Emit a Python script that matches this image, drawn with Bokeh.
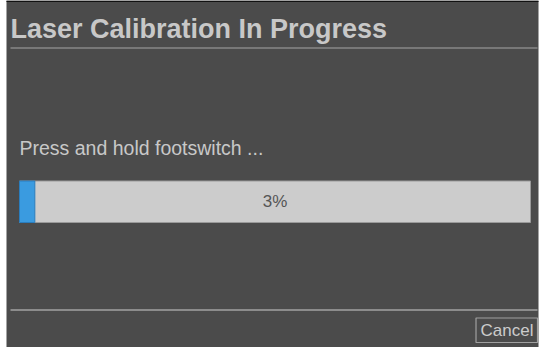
from bokeh.plotting import figure
from bokeh.models import Range1d
from bokeh.core.properties import value
from bokeh.embed import file_html
from bokeh.resources import INLINE

# ---- data ----
title_text = ["Laser Calibration In Progress"]
prompt_text = ["Press and hold footswitch ..."]
button_text = ["Cancel"]
progress_value = [3]          # percent complete
progress_max = [100]

FONT = "Liberation Sans"

# ranges are expressed in page pixels
p = figure(width=540, height=347, x_range=Range1d(0, 540), y_range=Range1d(347, 0),
           output_backend="svg", toolbar_location=None, min_border=0,
           background_fill_color="#ffffff", border_fill_color="#ffffff")
p.axis.visible = False
p.grid.visible = False
p.outline_line_color = None

# dialog body and top border
p.quad(left=[6], right=[538], top=[0], bottom=[347], fill_color="#4b4b4b", line_color=None)
p.quad(left=[6], right=[538], top=[0], bottom=[1.5], fill_color="#111111", line_color=None)

# title
p.text(x=[10], y=[28], text=title_text, text_font=value(FONT), text_font_style="bold",
       text_font_size="27px", text_color="#c8c8c8", text_baseline="middle", text_align="left")
p.segment(x0=[10], y0=[47.5], x1=[537], y1=[47.5], line_color="#a6a6a6", line_width=1.2)

# prompt
p.text(x=[19], y=[147], text=prompt_text, text_font=value(FONT), text_font_size="19.5px",
       text_color="#c8c8c8", text_baseline="middle", text_align="left")

# progress bar
bar_left, bar_right, bar_top, bar_bottom = 19, 530, 180.5, 222
p.quad(left=[bar_left], right=[bar_right], top=[bar_top], bottom=[bar_bottom],
       fill_color="#cccccc", line_color="#9a9a9a", line_width=1)
fill_right = [bar_left + (bar_right - bar_left) * v / m for v, m in zip(progress_value, progress_max)]
p.quad(left=[bar_left], right=fill_right, top=[bar_top], bottom=[bar_bottom],
       fill_color="#3a9be0", line_color="#2a7dbd", line_width=1)
p.text(x=[(bar_left + bar_right) / 2], y=[(bar_top + bar_bottom) / 2],
       text=[f"{v}%" for v in progress_value], text_font=value(FONT), text_font_size="17px",
       text_color="#555555", text_baseline="middle", text_align="center")

# bottom separator
p.segment(x0=[10], y0=[309.5], x1=[537], y1=[309.5], line_color="#8c8c8c", line_width=2)

# cancel button
p.quad(left=[475.5], right=[537], top=[317.5], bottom=[342], fill_color=None,
       line_color="#a0a0a0", line_width=1.2)
p.text(x=[506.5], y=[330], text=button_text, text_font=value(FONT), text_font_size="17px",
       text_color="#cccccc", text_baseline="middle", text_align="center")

open("out.html", "w").write(file_html(p, INLINE))
